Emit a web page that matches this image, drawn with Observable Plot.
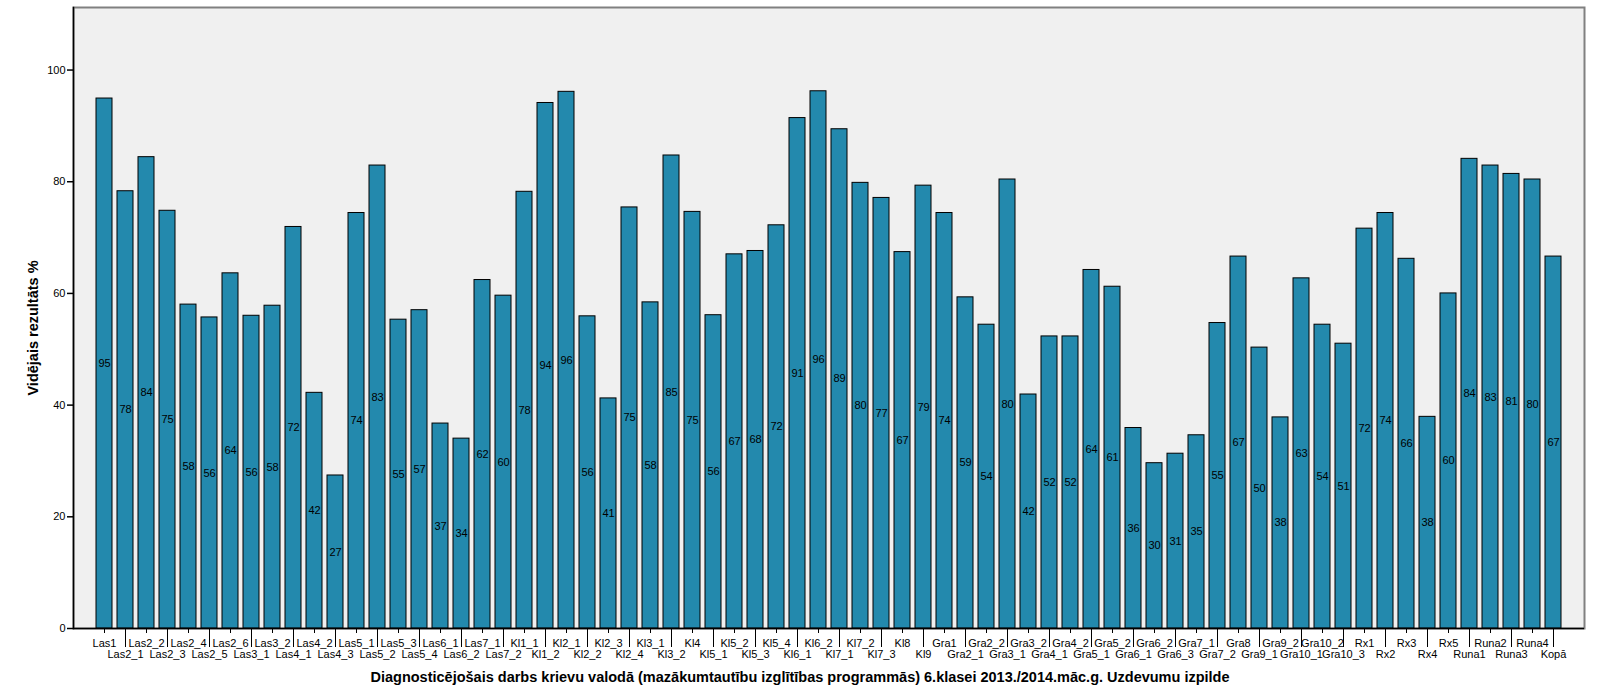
<!DOCTYPE html>
<html><head><meta charset="utf-8">
<script src="https://cdn.jsdelivr.net/npm/d3@7"></script>
<script src="https://cdn.jsdelivr.net/npm/@observablehq/plot@0.6"></script>
<style>
body{margin:0;background:#fff;font-family:"Liberation Sans",Arial,sans-serif;}
#title{width:1600px;text-align:center;font-weight:bold;font-size:14.5px;line-height:18px;color:#000;}
</style></head><body>
<div id="chart"></div>
<div id="title"></div>
<script>
const categories = ["Las1","Las2_1","Las2_2","Las2_3","Las2_4","Las2_5","Las2_6","Las3_1","Las3_2","Las4_1","Las4_2","Las4_3","Las5_1","Las5_2","Las5_3","Las5_4","Las6_1","Las6_2","Las7_1","Las7_2","Kl1_1","Kl1_2","Kl2_1","Kl2_2","Kl2_3","Kl2_4","Kl3_1","Kl3_2","Kl4","Kl5_1","Kl5_2","Kl5_3","Kl5_4","Kl6_1","Kl6_2","Kl7_1","Kl7_2","Kl7_3","Kl8","Kl9","Gra1","Gra2_1","Gra2_2","Gra3_1","Gra3_2","Gra4_1","Gra4_2","Gra5_1","Gra5_2","Gra6_1","Gra6_2","Gra6_3","Gra7_1","Gra7_2","Gra8","Gra9_1","Gra9_2","Gra10_1","Gra10_2","Gra10_3","Rx1","Rx2","Rx3","Rx4","Rx5","Runa1","Runa2","Runa3","Runa4","Kopā"];
const values = [94.9,78.3,84.4,74.8,58.0,55.7,63.6,56.0,57.8,71.9,42.2,27.4,74.4,82.9,55.3,57.0,36.7,34.0,62.4,59.6,78.2,94.1,96.1,55.9,41.2,75.4,58.4,84.7,74.6,56.1,67.0,67.6,72.2,91.4,96.2,89.4,79.8,77.1,67.4,79.3,74.4,59.3,54.4,80.4,41.9,52.3,52.3,64.2,61.2,35.9,29.6,31.3,34.6,54.7,66.6,50.3,37.8,62.7,54.4,51.0,71.6,74.4,66.2,37.9,60.0,84.1,82.9,81.4,80.4,66.6];
const yTicks = [0,20,40,60,80,100];
const yTitle = "Vidējais rezultāts %";
const xTitle = "Diagnosticējošais darbs krievu valodā (mazākumtautību izglītības programmās) 6.klasei 2013./2014.māc.g. Uzdevumu izpilde";

const data = categories.map((c,i)=>({category:c, value:values[i]}));
const evenCats = categories.filter((c,i)=>i%2===0);
const oddCats = categories.filter((c,i)=>i%2===1);

const chart = Plot.plot({
  width:1600, height:668,
  marginLeft:73, marginRight:16, marginTop:7, marginBottom:40,
  style:{fontFamily:"'Liberation Sans', Arial, sans-serif", fontSize:"11px", background:"#fff", color:"#000", overflow:"visible"},
  x:{type:"band", domain:categories, paddingInner:0.243, paddingOuter:0.875, label:null},
  y:{domain:[0,111.2], label:null},
  marks:[
    Plot.frame({fill:"#f0f0f0", stroke:"#808080", strokeWidth:2}),
    Plot.barY(data,{x:"category", y:"value", fill:"#2389ad", stroke:"#000", strokeWidth:1}),
    Plot.text(data,{x:"category", y:d=>d.value/2, text:d=>d3.format(".0f")(d.value), fill:"#000", fontSize:11}),
    Plot.ruleY([0],{stroke:"#000", strokeWidth:1.5}),
    Plot.frame({anchor:"left", stroke:"#000", strokeWidth:1.5}),
    Plot.axisY({ticks:yTicks, tickSize:6, tickPadding:2, label:null, fontSize:11, strokeWidth:1.5}),
    Plot.text([yTitle],{frameAnchor:"left", textAnchor:"middle", rotate:-90, dx:-40, dy:10, fontWeight:"bold", fontSize:14.5, fill:"#000"}),
    Plot.axisX({ticks:evenCats, tickSize:5, tickPadding:6, label:null, fontSize:11}),
    Plot.axisX({ticks:oddCats, tickSize:19, tickPadding:3, label:null, fontSize:11})
  ]
});
document.getElementById("chart").appendChild(chart);
document.getElementById("title").textContent = xTitle;
</script>
</body></html>
